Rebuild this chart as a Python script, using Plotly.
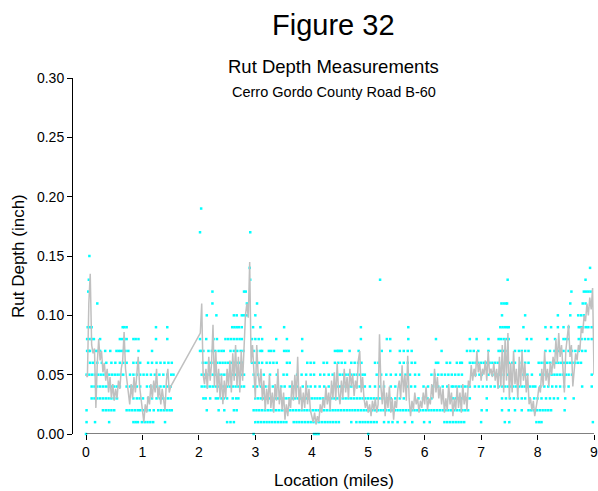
import numpy as np
import plotly.graph_objs as go

# individual readings (cyan dots): location in hundredths of a mile, one list per depth level (inch)
loc_000 = [0, 297, 404, 408, 412, 500]
loc_001 = [1, 16, 41, 84, 88, 92, 99, 104, 109, 114, 119, 140, 250, 256, 262,
           300, 305, 310, 315, 320, 325, 330, 335, 340, 345, 350, 355,
           368, 373, 378, 383, 388, 393, 398, 403, 408, 413, 418, 423, 428, 433, 438, 443, 448,
           470, 479, 485, 490, 495, 500, 505, 510, 515, 528, 536, 543, 552, 565, 578, 599, 609,
           635, 640, 645, 650, 655, 660, 665, 670, 700, 742, 750, 798, 803, 807, 898]
loc_002 = [1, 30, 35, 40, 45, 50, 72, 77, 82, 87, 92, 96, 101, 108, 113, 120, 128, 133, 138, 143, 148, 152,
           214, 235, 245, 262, 267,
           297, 302, 307, 312, 317, 322, 327, 332, 337, 342, 347, 352, 357, 362, 367, 372, 377, 382, 387,
           392, 397, 402, 407, 412, 417, 422, 427, 432, 437, 442, 447, 452, 457, 462, 467, 472, 477, 482,
           487, 492, 497, 502, 507, 512, 517, 522, 527, 532, 537, 542, 547, 552, 557, 562, 567, 572, 577,
           582, 587, 592, 597, 602, 607, 612, 617, 622, 627, 632, 637, 642, 647, 652, 657, 662, 667, 672, 677,
           701, 710, 737, 749, 760, 772, 784, 789, 794, 799, 804, 809, 814, 819, 824, 848]
loc_003 = [10, 15, 20, 25, 30, 35, 40, 45, 50, 55, 84, 90, 95, 101, 110, 117, 125, 131, 137, 145, 150,
           208, 212, 220, 230, 234, 240, 244, 250, 260, 266, 270,
           300, 305, 310, 315, 320, 325, 330, 335, 340, 345, 350, 355, 360, 365, 370, 375, 380, 385, 390,
           395, 400, 405, 410, 415, 420, 425, 430, 435, 440, 445, 450, 455, 460, 465, 470, 475, 480, 485,
           490, 495, 500, 505, 510, 515, 520, 525, 533, 540, 548, 556, 563, 589, 597, 605, 612,
           645, 650, 655, 660, 665, 670, 675, 680, 710, 737, 744, 751, 758, 765, 772, 778, 786, 794,
           800, 807, 815, 822, 829, 836, 849, 864]
loc_004 = [10, 15, 20, 25, 30, 35, 40, 45, 50, 55, 60, 72, 78, 84, 90, 96, 108, 114, 120, 126, 132, 138, 144, 150,
           205, 210, 215, 220, 225, 230, 235, 240, 245, 250, 255, 260, 265, 270, 275, 280,
           297, 303, 310, 318, 324, 331, 340, 346, 352, 361, 368, 375, 384, 392, 398, 406, 414, 422, 430, 437, 445,
           450, 455, 460, 465, 470, 475, 480, 485, 490, 494, 503, 512, 520, 528, 540, 548, 556, 568, 576, 583,
           598, 606, 615, 624, 632, 640, 648, 651, 656, 661, 666, 671, 676, 680,
           689, 696, 703, 710, 717, 724, 731, 737, 742, 747, 752, 757, 762, 767, 772, 777, 782, 787, 792, 796,
           805, 812, 819, 826, 833, 840, 847, 855, 879, 896]
loc_005 = [1, 6, 11, 16, 21, 26, 31, 36, 41, 46, 51, 56, 61, 66, 78, 84, 90, 96, 102, 108, 115, 122, 130, 137, 144, 151, 155,
           205, 210, 215, 220, 225, 230, 235, 240, 245, 250, 255, 260, 265, 270, 275, 280,
           297, 305, 315, 326, 338, 350, 356, 374, 382, 390, 398, 404, 415, 422, 430, 437, 445,
           450, 455, 460, 465, 470, 475, 480, 485, 490, 494, 515, 523, 532, 540, 549, 557, 566, 574, 583, 590,
           612, 618, 624, 630, 636, 642, 648, 654, 660, 666, 683, 690, 697, 701, 713, 720, 727, 731,
           740, 747, 754, 761, 768, 775, 782, 790, 805, 810, 815, 820, 825, 830, 835, 840, 845, 850, 855, 861, 896]
loc_006 = [7, 12, 20, 28, 36, 45, 52, 60, 66, 72, 84, 90, 96, 110, 117, 125, 132, 139, 146, 152,
           207, 212, 217, 222, 227, 232, 237, 242, 247, 252, 257, 262, 267, 272, 277,
           294, 300, 306, 312, 320, 326, 332, 338, 356, 361, 392, 398, 404, 421, 427,
           441, 447, 453, 459, 470, 476, 482, 488, 512, 518, 556, 563, 570, 577, 583, 620, 624, 639, 645, 657, 663, 666,
           680, 685, 690, 695, 700, 705, 710, 715, 720, 725, 730, 737, 743, 749, 755, 760, 772, 778, 784,
           802, 807, 812, 817, 822, 827, 832, 837, 842, 847, 852, 857, 862, 867, 872, 877]
loc_007 = [2, 5, 7, 16, 20, 25, 34, 43, 54, 58, 62, 66, 70, 75, 93, 117, 202, 205, 208, 217, 223, 229, 235, 240, 244,
           256, 262, 268, 274, 279, 297, 303, 309, 312, 324, 328, 333, 351, 355, 359, 383, 441, 445, 447, 450, 453,
           467, 483, 524, 539, 556, 563, 570, 577, 630, 675, 681, 687, 695, 713, 731, 735, 739, 743,
           760, 767, 772, 778, 784, 814, 822, 830, 838, 846, 855, 861, 867, 873, 879, 885]
loc_008 = [2, 6, 10, 14, 25, 60, 64, 68, 72, 84, 88, 93, 124, 144, 202, 213, 226, 232, 247, 252, 257, 262, 267, 272, 276,
           294, 300, 306, 312, 337, 356, 383, 487, 533, 539, 571, 620, 680, 692, 713, 731, 735, 740, 745, 749,
           781, 789, 817, 831, 846, 850, 855, 873, 878, 884, 890, 896]
loc_009 = [3, 7, 10, 65, 68, 72, 124, 144, 259, 263, 267, 271, 276, 296, 309, 351, 487, 571,
           734, 738, 742, 746, 749, 775, 814, 824, 836, 846, 855, 873, 877, 881, 886, 890, 896]
loc_010 = [214, 231, 262, 267, 276, 280, 285, 300, 737, 778, 836, 858, 872, 877, 882]
loc_011 = [20, 224, 285, 303, 736, 740, 744, 746, 858, 880, 885]
loc_012 = [4, 224, 280, 283, 860, 882, 886, 890, 894]
loc_013 = [5, 291, 521, 747, 885]
loc_014 = [290, 893]
loc_015 = [6]
loc_017 = [202, 291]
loc_019 = [204]

depth_levels = [0.00, 0.01, 0.02, 0.03, 0.04, 0.05, 0.06, 0.07, 0.08, 0.09, 0.10,
                0.11, 0.12, 0.13, 0.14, 0.15, 0.17, 0.19]
level_locs = [loc_000, loc_001, loc_002, loc_003, loc_004, loc_005, loc_006, loc_007, loc_008, loc_009, loc_010,
              loc_011, loc_012, loc_013, loc_014, loc_015, loc_017, loc_019]

# averaged rut depth (gray line), thousandths of an inch, every 0.025 mile
avg_a_start, avg_a_end = 0.0, 1.5
avg_a = [50, 48, 110, 135, 75, 68, 72, 22, 60, 80, 62, 70, 52, 60, 45, 55, 35, 48, 30, 42, 28,
         38, 30, 45, 38, 55, 62, 86, 55, 45, 35, 25, 42, 30, 48, 35, 50, 65, 40, 30, 20,
         10, 25, 18, 32, 25, 42, 30, 45, 35, 55, 30, 40, 25, 38, 28, 20, 45, 55, 35, 40]
avg_b_start, avg_b_end = 2.025, 9.0
avg_b = [85, 110, 50, 42, 55, 38, 65, 45, 60, 92, 40, 70, 35, 55, 30, 50, 25, 45, 30, 55, 40, 62, 35, 68, 45,
         75, 40, 65, 35, 70, 45, 75, 100, 110, 98, 145,
         60, 75, 45, 30, 75, 50, 40, 55, 28, 45, 20, 38, 25, 50, 22, 35, 18, 42, 28, 55, 25, 40, 20, 35,
         12, 25, 15, 30, 22, 45, 28, 50, 30, 65, 25, 40, 20, 35, 22, 45,
         25, 38, 20, 15, 10, 18, 8, 15, 10, 25, 18, 30, 22, 40, 25, 35, 20, 45, 30, 52,
         28, 60, 35, 25, 45, 30, 55, 35, 48, 30, 55, 40, 50, 32, 45, 38, 62, 70, 35, 48,
         30, 22, 28, 18, 25, 15, 28, 20, 30, 18, 25, 84, 40, 25, 45, 15, 35, 22, 40, 18,
         30, 12, 28, 22, 38, 45, 30, 58, 35, 50, 28, 66, 30, 15, 28, 20, 35, 25, 30, 18,
         28, 22, 35, 25, 40, 20, 30, 25, 42, 30, 55, 35, 48, 30, 40, 25, 38, 18, 30, 20,
         42, 25, 35, 15, 30, 20, 40, 22, 35, 18, 42, 25, 35, 20, 45, 40, 58, 45, 55, 48,
         70, 52, 60, 45, 55, 50, 62, 45, 70, 50, 55, 48, 60, 45, 55, 38, 65, 40, 75, 35,
         80, 45, 85, 30, 60, 35, 70, 42, 55, 30, 65, 40, 70, 45, 60, 35, 50, 25, 30, 20,
         28, 15, 22, 30, 40, 35, 55, 40, 70, 45, 55, 40, 60, 50, 65, 55, 80, 60, 85, 65,
         75, 50, 35, 70, 80, 92, 65, 75, 40, 55, 68, 62, 75, 70, 90, 85, 100, 95, 110, 100,
         115, 105, 123, 50]

dot_x, dot_y = [], []
for lvl, locs in zip(depth_levels, level_locs):
    dot_x += [v / 100 for v in locs]
    dot_y += [lvl] * len(locs)

line_x = np.concatenate([np.linspace(avg_a_start, avg_a_end, len(avg_a)),
                         np.linspace(avg_b_start, avg_b_end, len(avg_b))])
line_y = np.array(avg_a + avg_b) / 1000

font = 'Liberation Sans, Arial, sans-serif'

data = [go.Scatter(x=dot_x, y=dot_y, mode='markers', cliponaxis=False,
                   marker=dict(color='#00ffff', size=2.5, symbol='square', line=dict(width=0)),
                   hoverinfo='skip'),
        go.Scatter(x=line_x, y=line_y, mode='lines', cliponaxis=False,
                   line=dict(color='#c0c0c0', width=1.5))]

layout = go.Layout(width=598, height=491, showlegend=False,
                   paper_bgcolor='white', plot_bgcolor='white',
                   margin=dict(l=73, r=4, t=78, b=57, autoexpand=False),
                   font=dict(family=font, size=14, color='black'),
                   xaxis=dict(range=[-0.2303, 9.0], tickvals=list(range(10)), ticks='outside', ticklen=5,
                              tickcolor='black', showline=False, showgrid=False, zeroline=False,
                              automargin=False, ticklabeloverflow='allow', tickfont=dict(size=14)),
                   yaxis=dict(range=[0, 0.30], tickvals=[0, 0.05, 0.10, 0.15, 0.20, 0.25, 0.30],
                              tickformat='.2f', ticks='outside', ticklen=5, tickcolor='black',
                              showline=True, linecolor='black', linewidth=1, automargin=False,
                              showgrid=False, zeroline=False, tickfont=dict(size=14)),
                   shapes=[dict(type='line', xref='x', yref='y', x0=0, x1=9, y0=0, y1=0,
                                line=dict(color='black', width=1))],
                   annotations=[
                       dict(text='Figure 32', xref='paper', yref='paper', x=0.5, y=1, yshift=53,
                            showarrow=False, yanchor='middle', font=dict(size=29)),
                       dict(text='Rut Depth Measurements', xref='paper', yref='paper', x=0.5, y=1, yshift=12,
                            showarrow=False, yanchor='middle', font=dict(size=18.5)),
                       dict(text='Cerro Gordo County Road B-60', xref='paper', yref='paper', x=0.5, y=1,
                            yshift=-14, showarrow=False, yanchor='middle', font=dict(size=14.5)),
                       dict(text='Location (miles)', xref='paper', yref='paper', x=0.5, y=0, yshift=-46,
                            showarrow=False, yanchor='middle', font=dict(size=17)),
                       dict(text='Rut Depth (inch)', xref='paper', yref='paper', x=0, y=0.5, xshift=-55,
                            showarrow=False, textangle=-90, xanchor='center', yanchor='middle',
                            font=dict(size=17))])

fig = go.Figure(data, layout)
# drop the default 8px page margin so the figure fills the window exactly
fig.write_html('out.html', config={'displayModeBar': False},
               post_script="document.body.style.margin='0';")
